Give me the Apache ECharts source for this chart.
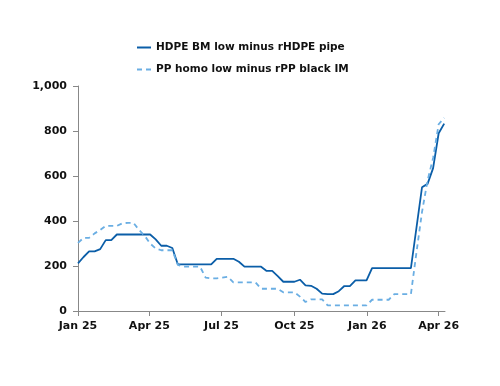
<!DOCTYPE html>
<html>
<head>
<meta charset="utf-8">
<script src="https://cdn.jsdelivr.net/npm/echarts@6/dist/echarts.min.js"></script>
<style>html,body{margin:0;padding:0;background:#fff}#c{width:500px;height:386px}</style>
</head>
<body>
<div id="c"></div>
<script>
// Weekly observations, first week and count
var startDate = '2025-01-01';
var seriesNames = ['HDPE BM low minus rHDPE pipe', 'PP homo low minus rPP black IM'];
var hdpeValues = [212,240,265,265,275,315,315,340,340,340,340,340,340,340,318,290,290,280,207,207,
  207,207,207,207,207,232,232,232,232,219,197,197,197,197,178,178,155,130,130,130,
  139,114,112,99,77,75,75,88,111,111,136,136,136,191,191,191,191,191,191,191,
  191,370,550,565,635,790,833];
var ppValues = [303,325,325,345,360,378,378,378,390,392,392,360,335,300,278,270,270,270,205,197,
  197,197,197,148,145,145,148,152,127,127,127,127,127,99,99,99,99,83,83,83,
  64,40,52,52,52,25,25,25,25,25,25,25,25,50,50,50,50,75,75,75,
  75,260,440,580,680,830,858];
var tickDates = ['2025-01-01','2025-04-01','2025-07-01','2025-10-01','2026-01-01','2026-04-01'];
var tickLabels = ['Jan 25','Apr 25','Jul 25','Oct 25','Jan 26','Apr 26'];
var axisEnd = '2026-04-09';

function ts(s){var p=s.split('-');return Date.UTC(+p[0],+p[1]-1,+p[2]);}
var DAY = 86400000;
var t0 = ts(startDate);
var dates = hdpeValues.map(function(_,i){return t0 + i*7*DAY;});
var tickTs = tickDates.map(ts);
var labelMap = {};
tickTs.forEach(function(t,i){labelMap[t]=tickLabels[i];});

var font = 'DejaVu Sans';
var chart = echarts.init(document.getElementById('c'), null, {renderer:'canvas'});
chart.setOption({
  animation:false,
  backgroundColor:'#fff',
  textStyle:{fontFamily:font},
  legend:{
    orient:'vertical', left:131, top:37, itemWidth:14, itemHeight:10, itemGap:11,
    itemStyle:{opacity:0},
    textStyle:{fontFamily:font, fontSize:10.5, fontWeight:'bold', color:'#111'},
    data:seriesNames
  },
  grid:{left:78, right:55, top:86, bottom:75},
  xAxis:{
    type:'value', min:ts(startDate), max:ts(axisEnd),
    axisLine:{show:true, lineStyle:{color:'#888', width:1}},
    axisTick:{show:true, customValues:tickTs, length:5, lineStyle:{color:'#888'}},
    axisLabel:{customValues:tickTs, formatter:function(v){return labelMap[v]||'';},
      fontFamily:font, fontSize:11, fontWeight:'bold', color:'#111', margin:10},
    splitLine:{show:false}
  },
  yAxis:{
    type:'value', min:0, max:1000, interval:200,
    axisLine:{show:true, lineStyle:{color:'#888', width:1}},
    axisTick:{show:true, length:5, lineStyle:{color:'#888'}},
    axisLabel:{formatter:function(v){return v.toLocaleString('en-US');},
      fontFamily:font, fontSize:11, fontWeight:'bold', color:'#111', margin:11},
    splitLine:{show:false}
  },
  series:[
    {name:seriesNames[0], type:'line', showSymbol:false, symbol:'none',
     data:dates.map(function(d,i){return [d,hdpeValues[i]];}),
     lineStyle:{color:'#0b5ea8', width:1.8}, itemStyle:{color:'#0b5ea8'}},
    {name:seriesNames[1], type:'line', showSymbol:false, symbol:'none',
     data:dates.map(function(d,i){return [d,ppValues[i]];}),
     lineStyle:{color:'#6aaee3', width:1.8, type:[5,4]}, itemStyle:{color:'#6aaee3'}}
  ]
});
</script>
</body>
</html>
